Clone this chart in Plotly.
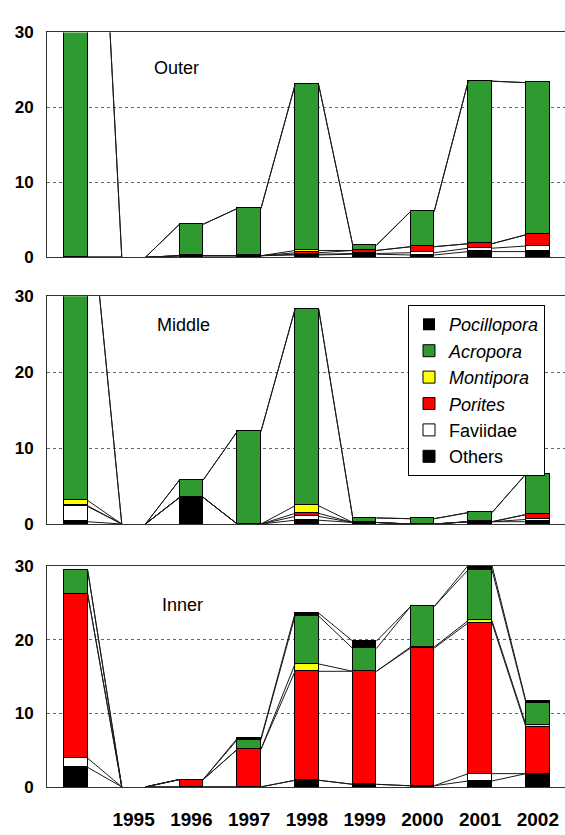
import plotly.graph_objects as go

# Survey years; 1994 is the baseline column and carries no tick label
years = [1994, 1995, 1996, 1997, 1998, 1999, 2000, 2001, 2002]
tick_years = [1995, 1996, 1997, 1998, 1999, 2000, 2001, 2002]

# Coral cover per genus and year, outer reef
outer_pocillopora = [0, 0, 0, 0, 0, 0, 0, 0, 0]
outer_acropora = [87, 0, 4.2, 6.3, 22.1, 0.7, 4.7, 21.7, 20.3]
outer_montipora = [0, 0, 0, 0, 0.3, 0, 0, 0, 0]
outer_porites = [0, 0, 0, 0, 0.2, 0.4, 0.8, 0.6, 1.5]
outer_faviidae = [0, 0, 0, 0, 0.1, 0.1, 0.3, 0.45, 0.75]
outer_others = [0, 0, 0.2, 0.2, 0.3, 0.4, 0.3, 0.75, 0.75]

# Middle reef
middle_pocillopora = [0, 0, 0, 0, 0, 0, 0, 0, 0]
middle_acropora = [42.9, 0, 2.3, 12.2, 25.9, 0.6, 0.7, 1.2, 5.35]
middle_montipora = [0.7, 0, 0, 0, 1.0, 0, 0, 0, 0]
middle_porites = [0.1, 0, 0, 0, 0.4, 0, 0, 0, 0.65]
middle_faviidae = [2.0, 0, 0, 0, 0.5, 0, 0, 0, 0.3]
middle_others = [0.3, 0, 3.5, 0, 0.5, 0.2, 0, 0.3, 0.3]

# Inner reef
inner_pocillopora = [0, 0, 0, 0.2, 0.4, 1.0, 0, 0.6, 0.2]
inner_acropora = [3.2, 0, 0, 1.3, 6.5, 3.1, 5.5, 6.9, 3.0]
inner_montipora = [0, 0, 0, 0, 1.0, 0, 0.15, 0.3, 0.3]
inner_porites = [22.3, 0, 1.0, 5.1, 14.8, 15.35, 18.7, 20.5, 6.3]
inner_faviidae = [1.25, 0, 0, 0, 0, 0, 0, 1.0, 0]
inner_others = [2.65, 0, 0, 0, 0.9, 0.35, 0.15, 0.8, 1.8]

# Stack order from the bottom up
genera = ["Others", "Faviidae", "Porites", "Montipora", "Acropora", "Pocillopora"]
legend_labels = ["Others", "Faviidae", "<i>Porites</i>", "<i>Montipora</i>",
                 "<i>Acropora</i>", "<i>Pocillopora</i>"]
genus_colors = ["#000000", "#ffffff", "#ff0000", "#ffff00", "#2f9a2f", "#000000"]

panels = [
    ("Outer", [outer_others, outer_faviidae, outer_porites, outer_montipora,
               outer_acropora, outer_pocillopora]),
    ("Middle", [middle_others, middle_faviidae, middle_porites, middle_montipora,
                middle_acropora, middle_pocillopora]),
    ("Inner", [inner_others, inner_faviidae, inner_porites, inner_montipora,
               inner_acropora, inner_pocillopora]),
]

W, H = 565, 835
LEFT = 47
# plot-area pixel rows (top, bottom) for each panel
panel_px = [(24, 254), (294, 527), (570, 796)]
label_pos = [(152, 60), (155, 323), (160, 610)]
BAR_W = 0.41

FONT = "Liberation Sans, Arial, sans-serif"

fig = go.Figure()

for p, (name, series) in enumerate(panels):
    ax = "" if p == 0 else str(p + 1)
    xref, yref = "x" + ax, "y" + ax
    for g, vals in enumerate(series):
        fig.add_trace(go.Bar(
            x=years, y=vals, width=BAR_W, name=legend_labels[g],
            marker=dict(color=genus_colors[g],
                        # empty segments get no outline
                        line=dict(color="black",
                                  width=[1 if v > 0 else 0 for v in vals])),
            xaxis=xref, yaxis=yref, showlegend=(p == 1), legendgroup=genera[g],
        ))
    # series lines joining the top of each stacked segment between columns
    cum = [0.0] * len(years)
    lx, ly = [], []
    for vals in series:
        cum = [c + v for c, v in zip(cum, vals)]
        for i in range(len(years) - 1):
            lx += [years[i] + BAR_W / 2, years[i + 1] - BAR_W / 2, None]
            ly += [cum[i], cum[i + 1], None]
    fig.add_trace(go.Scatter(
        x=lx, y=ly, mode="lines", line=dict(color="#1a1a1a", width=1),
        xaxis=xref, yaxis=yref, showlegend=False, hoverinfo="skip",
    ))

    top, bot = panel_px[p]
    fig.layout["xaxis" + ax] = dict(
        domain=[LEFT / W, 1], range=[1993.5, 2002.47],
        showgrid=False, zeroline=False,
        showline=True, linecolor="#333", linewidth=1, mirror=True,
        tickmode="array", tickvals=tick_years,
        ticktext=[str(y) for y in tick_years] if p == 2 else [""] * len(tick_years),
        ticks="", ticklabelstandoff=15,
        tickfont=dict(family=FONT, size=19, color="black", weight="bold"),
        anchor=yref,
    )
    fig.layout["yaxis" + ax] = dict(
        domain=[1 - bot / H, 1 - top / H], range=[0, 30],
        tickvals=[0, 10, 20, 30], ticks="",
        showgrid=True, gridcolor="#666", griddash="dot", gridwidth=1,
        zeroline=False, showline=True, linecolor="#333", linewidth=1,
        ticklabelstandoff=9,
        tickfont=dict(family=FONT, size=17, color="black", weight="bold"),
        anchor=xref,
    )
    lx0, ly0 = label_pos[p]
    fig.add_annotation(
        x=lx0 / W, y=1 - ly0 / H, xref="paper", yref="paper",
        xanchor="left", yanchor="middle", showarrow=False, text=name,
        font=dict(family=FONT, size=18, color="black"),
    )

fig.update_layout(
    width=W, height=H, autosize=False,
    margin=dict(l=0, r=0, t=0, b=0),
    paper_bgcolor="white", plot_bgcolor="white",
    barmode="stack", bargap=0,
    legend=dict(
        x=408 / W, y=1 - 303 / H, xanchor="left", yanchor="top",
        traceorder="reversed", bgcolor="white",
        bordercolor="black", borderwidth=1,
        font=dict(family=FONT, size=18, color="black"),
    ),
)

fig.write_html("out.html")
